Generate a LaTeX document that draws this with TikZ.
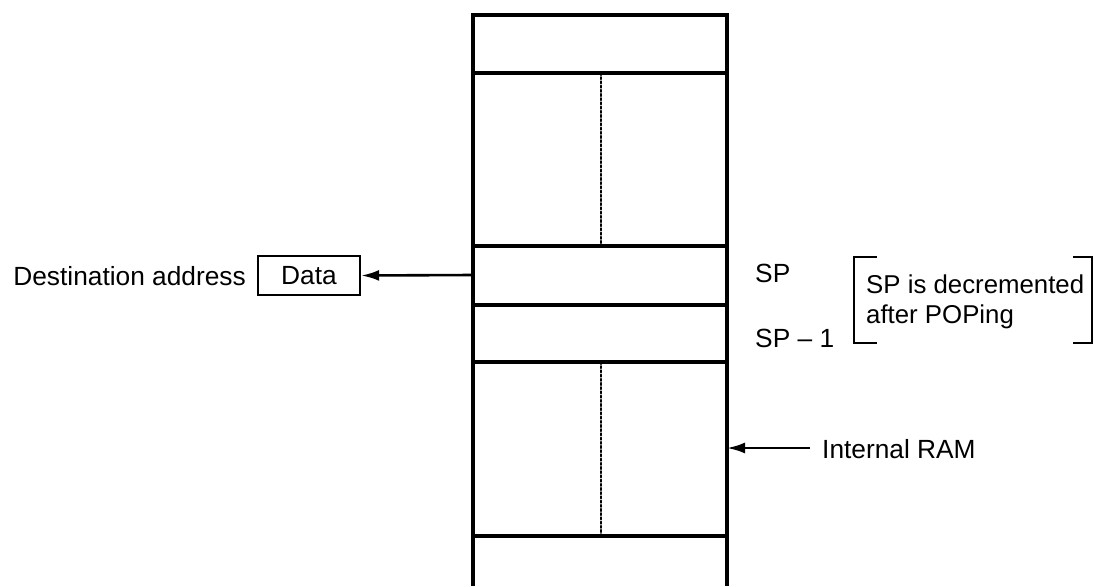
\documentclass[tikz,border=0pt]{standalone}
\usepackage{fontspec}
\setmainfont{Liberation Sans}
\usetikzlibrary{arrows.meta}
\begin{document}
\begin{tikzpicture}[x=1pt,y=-1pt,
  txt/.style={font=\fontsize{26.3}{30}\selectfont, inner sep=0pt},
  wall/.style={line width=3.8pt},
  divider/.style={line width=2.2pt, line cap=round, dash pattern=on 2pt off 2.2pt},
  ptr/.style={line width=2.6pt, -{Latex[length=18pt,width=11pt]}},
  brk/.style={line width=2.4pt}]
\useasboundingbox (0,0) rectangle (1094,586);
% memory column
\draw[wall] (473,586) -- (473,15) -- (727,15) -- (727,586);
\foreach \yy in {73,246,305,362,536}{\draw[wall] (473,\yy) -- (727,\yy);}
\draw[divider] (601,73) -- (601,246);
\draw[divider] (601,362) -- (601,536);
% named points on the column
\coordinate (spleft) at (473,275);
\coordinate (ramright) at (727,448);
% left side
\node[draw, line width=2.4pt, minimum width=102pt, minimum height=39pt, txt, anchor=center] (data) at (309,275.5) {Data};
\node[txt, anchor=east] (dest) at (246,276) {Destination address};
\draw[ptr] (spleft) -- (data.east);
% right side
\node[txt, anchor=west] (sp) at (755,273) {SP};
\node[txt, anchor=west] (spm) at (755,338) {SP -- 1};
\node[txt, font=\fontsize{25.8}{30}\selectfont, anchor=north west, align=left] (note) at (866,275) {SP is decremented\\after POPing};
\draw[brk] (877,257) -- (854,257) -- (854,343) -- (877,343);
\draw[brk] (1073,257) -- (1092,257) -- (1092,343) -- (1073,343);
\node[txt, anchor=west] (ram) at (822,449) {Internal RAM};
\draw[ptr] (810,448) -- (ramright);
\end{tikzpicture}
\end{document}
